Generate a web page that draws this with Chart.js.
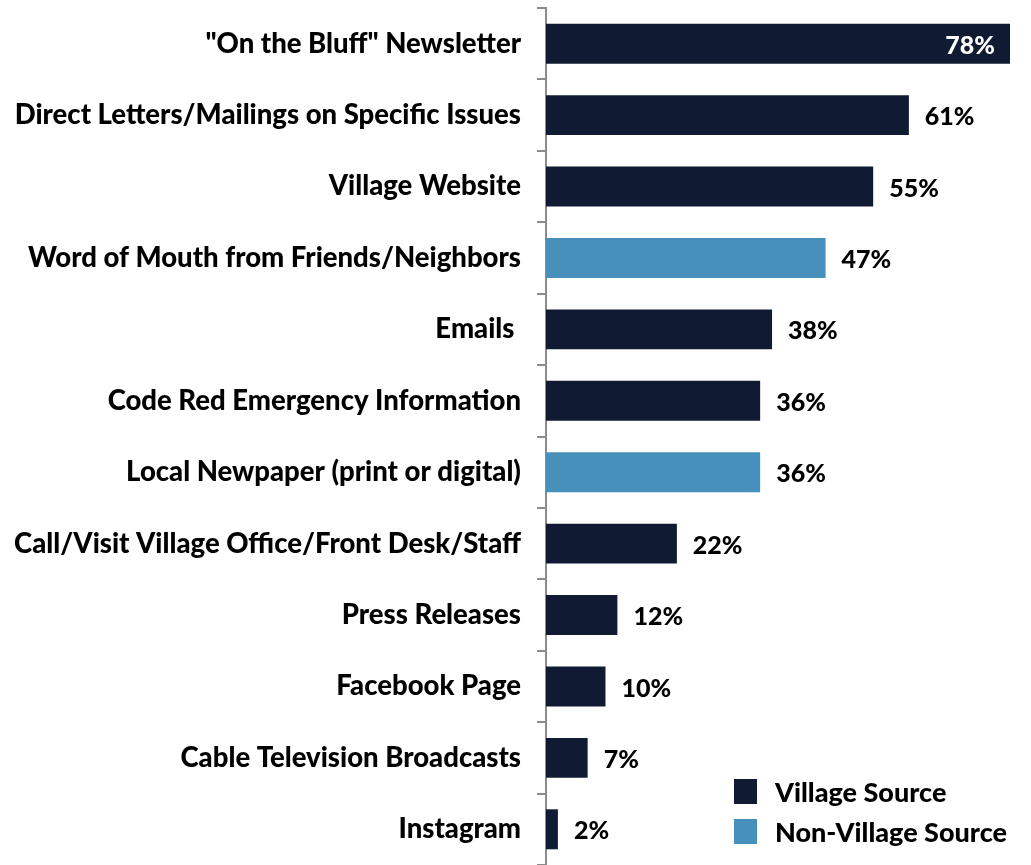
<!DOCTYPE html>
<html>
<head>
<meta charset="utf-8">
<script src="https://cdn.jsdelivr.net/npm/chart.js@4.4.1/dist/chart.umd.min.js"></script>
<style>
  html, body { margin: 0; padding: 0; background: #fff; }
  #wrap { width: 1031px; height: 865px; position: relative; }
</style>
</head>
<body>
<div id="wrap"><canvas id="chart"></canvas></div>
<script>
const categories = [
  '"On the Bluff" Newsletter',
  'Direct Letters/Mailings on Specific Issues',
  'Village Website',
  'Word of Mouth from Friends/Neighbors',
  'Emails ',
  'Code Red Emergency Information',
  'Local Newpaper (print or digital)',
  'Call/Visit Village Office/Front Desk/Staff',
  'Press Releases',
  'Facebook Page',
  'Cable Television Broadcasts',
  'Instagram'
];
const villageValues = [78, 61, 55, null, 38, 36, null, 22, 12, 10, 7, 2];
const nonVillageValues = [null, null, null, 47, null, null, 36, null, null, null, null, null];
const seriesLabels = ['Village Source', 'Non-Village Source'];

const NAVY = '#101b33';
const BLUE = '#4690bb';
const FONT = 'Lato, "DejaVu Sans", sans-serif';

const labelsPlugin = {
  id: 'valueLabels',
  afterDatasetsDraw(chart) {
    const { ctx, chartArea } = chart;
    ctx.save();
    ctx.font = `900 25px ${FONT}`;
    ctx.textBaseline = 'middle';
    chart.data.datasets.forEach((ds, i) => {
      const meta = chart.getDatasetMeta(i);
      meta.data.forEach((bar, j) => {
        const v = ds.data[j];
        if (v == null) return;
        const txt = v + '%';
        if (bar.x > chartArea.right - 60) {
          ctx.fillStyle = '#fff';
          ctx.textAlign = 'right';
          ctx.fillText(txt, bar.x - 15, bar.y + 2);
        } else {
          ctx.fillStyle = '#000';
          ctx.textAlign = 'left';
          ctx.fillText(txt, bar.x + 16, bar.y + 2);
        }
      });
    });

    // legend, bottom right
    ctx.font = `900 27px ${FONT}`;
    ctx.textAlign = 'left';
    chart.data.datasets.forEach((ds, i) => {
      const y = 779 + i * 40;
      ctx.fillStyle = ds.backgroundColor;
      ctx.fillRect(734, y, 23, 25);
      ctx.fillStyle = '#000';
      ctx.fillText(ds.label, 775, y + 14);
    });
    ctx.restore();
  }
};

new Chart(document.getElementById('chart'), {
  type: 'bar',
  data: {
    labels: categories,
    datasets: [
      { label: seriesLabels[0], data: villageValues, backgroundColor: NAVY, grouped: false,
        barPercentage: 0.56, categoryPercentage: 1 },
      { label: seriesLabels[1], data: nonVillageValues, backgroundColor: BLUE, grouped: false,
        barPercentage: 0.56, categoryPercentage: 1 }
    ]
  },
  options: {
    indexAxis: 'y',
    responsive: true,
    maintainAspectRatio: false,
    animation: false,
    layout: { padding: { top: 8, right: 21, bottom: 0, left: 0 } },
    scales: {
      x: { display: false, min: 0, max: 78 },
      y: {
        afterFit(scale) {
          scale.width = 546;
          scale.paddingTop = 0;
          scale.paddingBottom = 0;
        },
        grid: {
          offset: true,
          drawOnChartArea: false,
          tickLength: 9,
          color: '#8c8c8c',
          lineWidth: 2
        },
        border: { color: '#8c8c8c', width: 2 },
        ticks: {
          color: '#000',
          padding: 16,
          font: { family: FONT, size: 27.5, weight: '900' }
        }
      }
    },
    plugins: {
      legend: { display: false },
      tooltip: { enabled: false }
    }
  },
  plugins: [labelsPlugin]
});
</script>
</body>
</html>
